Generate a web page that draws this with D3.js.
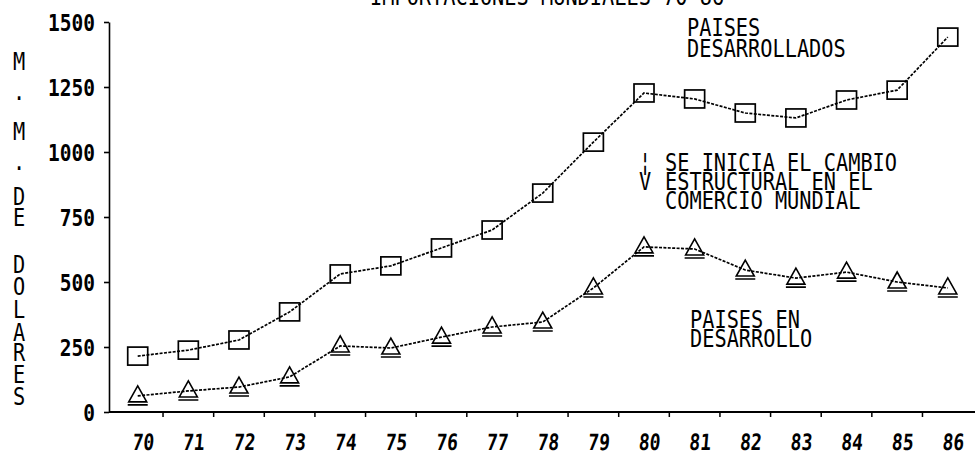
<!DOCTYPE html>
<html><head><meta charset="utf-8">
<script src="https://cdn.jsdelivr.net/npm/d3@7/dist/d3.min.js"></script>
<style>
html,body{margin:0;padding:0;background:#fff;}
svg{display:block;}
text{font-family:"DejaVu Sans Mono","Liberation Mono",monospace;fill:#000;}
</style></head>
<body>
<svg id="c" width="975" height="455"></svg>
<script>
const years = ["70","71","72","73","74","75","76","77","78","79","80","81","82","83","84","85","86"];
const developed  = [215,238,277,385,531,562,631,700,842,1038,1227,1204,1150,1131,1200,1238,1442];
const developing = [62,81,96,135,254,246,288,327,346,477,635,627,546,515,538,500,477];
const yTicks = [0,250,500,750,1000,1250,1500];
const titleText = "IMPORTACIONES MUNDIALES 70-86";
const yTitle = ["M",".","M",".","D","E","D","O","L","A","R","E","S"];
const devLabel = ["PAISES","DESARROLLADOS"];
const devingLabel = ["PAISES EN","DESARROLLO"];
const arrowMarks = ["\u00a6","V"];
const noteLines = ["SE INICIA EL CAMBIO","ESTRUCTURAL EN EL","COMERCIO MUNDIAL"];

const svg = d3.select("#c");
const x = d3.scaleBand().domain(years).range([112.4, 973.1]).padding(0);
const y = d3.scaleLinear().domain([0,1500]).range([412,22]);
const cx = d => x(d) + x.bandwidth()/2;

const FS = 20.3, SY = 1.22;
// one text element, several lines, each with its own baseline (page pixels)
function multiText(g, lines, tx, baselines, opts={}) {
  const t = g.append("text")
    .attr("transform", `scale(1,${SY})`)
    .attr("font-size", opts.size || FS);
  if (opts.anchor) t.attr("text-anchor", opts.anchor);
  lines.forEach((s,i) => {
    t.append("tspan").attr("x", tx).attr("y", baselines[i]/SY).text(s);
  });
  return t;
}

// title (mostly cut off at top, as in the reference)
multiText(svg, [titleText], 370, [5]);

// y-axis
const yAxis = svg.append("g").attr("transform","translate(109,0)")
  .call(d3.axisLeft(y).tickValues(yTicks).tickSize(5).tickSizeOuter(0).tickPadding(9).tickFormat(d3.format("d")));
yAxis.select(".domain").attr("stroke","#000").attr("stroke-width",1.6);
yAxis.selectAll(".tick line").attr("stroke","#000").attr("stroke-width",1.6);
yAxis.selectAll(".tick text")
  .attr("font-family","'DejaVu Sans Mono',monospace")
  .attr("font-weight","bold").attr("font-size",19.5)
  .attr("dy","0.36em")
  .attr("transform","scale(1,1.22)")
  .attr("y",0);

// x-axis labels
const xAxis = svg.append("g").attr("transform",`translate(0,${y(0)})`)
  .call(d3.axisBottom(x).tickSize(0).tickSizeOuter(0));
xAxis.select(".domain").remove();
xAxis.selectAll(".tick text")
  .attr("font-family","'DejaVu Sans Mono',monospace")
  .attr("font-weight","bold").attr("font-size",18)
  .attr("x",0).attr("y",0).attr("dy",0)
  .attr("transform","translate(5,38) scale(1,1.25) skewX(-6)");

// x-axis line
svg.append("line").attr("x1",109).attr("x2",975).attr("y1",y(0)).attr("y2",y(0))
  .attr("stroke","#000").attr("stroke-width",1.8);
// boundary ticks between years
svg.append("g").selectAll("line").data(years.slice(0,-1)).join("line")
  .attr("x1", d => x(d)+x.step()).attr("x2", d => x(d)+x.step())
  .attr("y1", y(0)).attr("y2", y(0)+5)
  .attr("stroke","#000").attr("stroke-width",1.5);

// y-axis title, stacked letters (one text element)
const yBase = [70,100,140,170,205,226,273,295,318,341,361,383,405];
multiText(svg, yTitle, 19, yBase, {anchor:"middle"});

// lines
const line = d3.line().x((d,i)=>cx(years[i])).y(d=>y(d));
[developed, developing].forEach(s => {
  svg.append("path").datum(s).attr("d",line)
    .attr("fill","none").attr("stroke","#000").attr("stroke-width",1.7).attr("stroke-dasharray","3,1.4");
});

// square markers
svg.append("g").selectAll("rect").data(developed).join("rect")
  .attr("x",(d,i)=>cx(years[i])-10).attr("y",d=>y(d)-9)
  .attr("width",20).attr("height",18)
  .attr("fill","none").attr("stroke","#000").attr("stroke-width",1.7);

// triangle markers
svg.append("g").selectAll("path").data(developing).join("path")
  .attr("transform",(d,i)=>`translate(${cx(years[i])},${y(d)})`)
  .attr("d","M0,-10 L9,6 L-9,6 Z M-10,9 L10,9")
  .attr("fill","none").attr("stroke","#000").attr("stroke-width",1.6);

// annotations
const a = svg.append("g");
multiText(a, devLabel, 687, [36,57]);
multiText(a, devingLabel, 690, [328,347]);
multiText(a, arrowMarks, 645, [171,190], {anchor:"middle"});
multiText(a, noteLines, 665, [171,190,209]);
</script>
</body></html>
